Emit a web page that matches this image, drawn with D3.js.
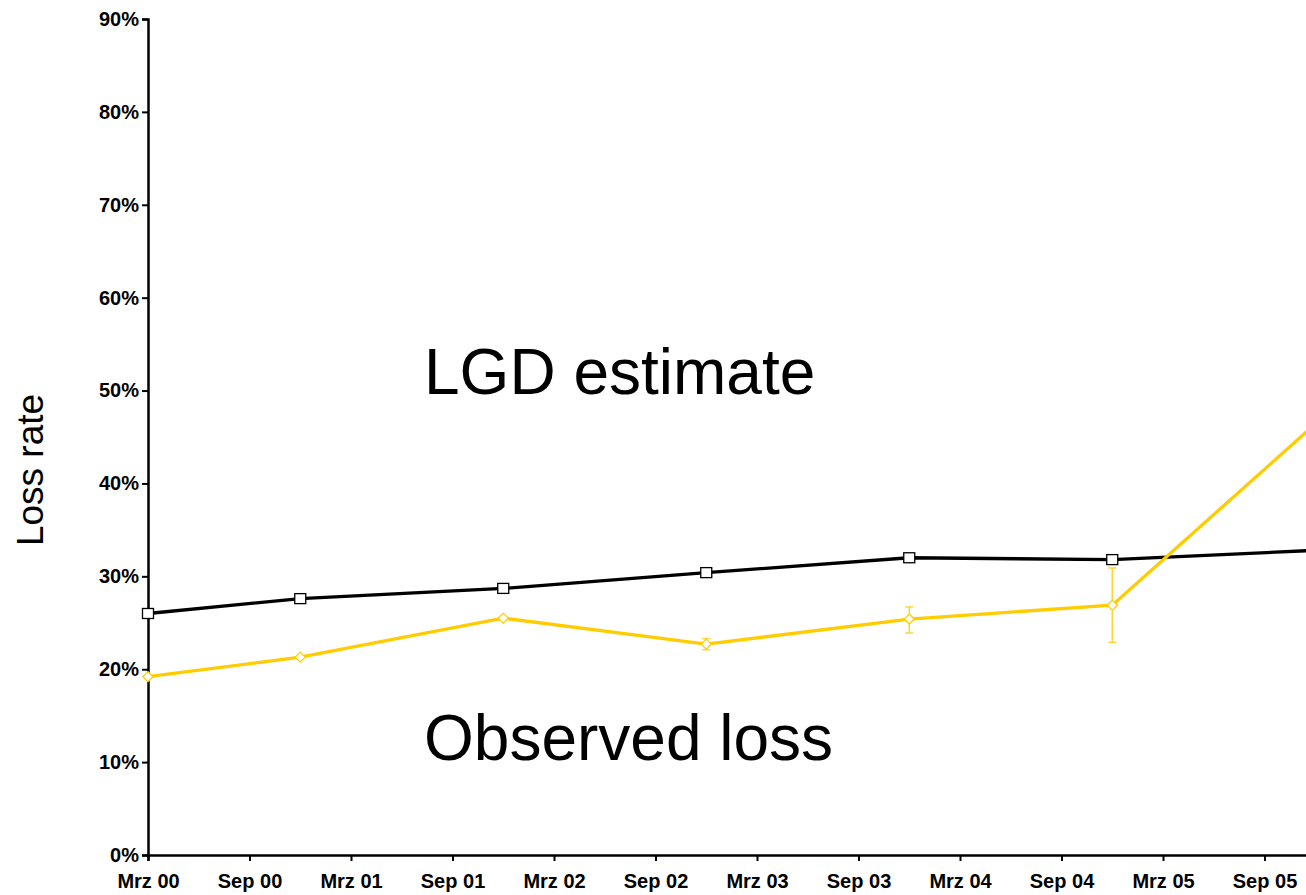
<!DOCTYPE html>
<html><head><meta charset="utf-8">
<script src="https://cdn.jsdelivr.net/npm/d3@7"></script>
<style>body{margin:0;background:#fff}svg{display:block}</style>
</head><body>
<svg id="c" width="1306" height="895"></svg>
<script>
// Month index counted from Jan 2000 (0 = Jan 00)
const tickMonths = [2, 8, 14, 20, 26, 32, 38, 44, 50, 56, 62, 68];
const tickLabels = ["Mrz 00","Sep 00","Mrz 01","Sep 01","Mrz 02","Sep 02","Mrz 03","Sep 03","Mrz 04","Sep 04","Mrz 05","Sep 05"];
const yTicks = [0, 0.1, 0.2, 0.3, 0.4, 0.5, 0.6, 0.7, 0.8, 0.9];
const pointMonths = [2, 11, 23, 35, 47, 59, 71];
const lgdEstimate = [0.260, 0.276, 0.287, 0.304, 0.320, 0.318, 0.328];
const observedLoss = [0.192, 0.213, 0.255, 0.227, 0.254, 0.269, 0.464];
const errLow = [null, null, null, 0.221, 0.239, 0.229, null];
const errHigh = [null, null, null, 0.233, 0.267, 0.309, null];

const svg = d3.select("#c");
const x = d3.scaleLinear().domain([2, 74]).range([148, 1366]);
const y = d3.scaleLinear().domain([0, 0.9]).range([855, 19]);
const font = "Liberation Sans, Arial, sans-serif";

// Y axis
const yAxis = d3.axisLeft(y).tickValues(yTicks).tickFormat(d3.format(".0%")).tickSizeOuter(0).tickSize(6).tickPadding(3);
const gy = svg.append("g").attr("transform", "translate(148,0)").call(yAxis);
gy.select(".domain").attr("stroke", "#000").attr("stroke-width", 2.5);
gy.selectAll(".tick line").attr("stroke", "#000").attr("stroke-width", 2);
gy.selectAll(".tick text").attr("font-family", font).attr("font-weight", "bold").attr("font-size", 20).attr("fill", "#000");

// X axis
const xAxis = d3.axisBottom(x).tickValues(tickMonths).tickFormat((d, i) => tickLabels[i]).tickSizeOuter(0).tickSize(6).tickPadding(13);
const gx = svg.append("g").attr("transform", "translate(0,855)").call(xAxis);
gx.select(".domain").attr("stroke", "#000").attr("stroke-width", 2.5);
gx.selectAll(".tick line").attr("stroke", "#000").attr("stroke-width", 2);
gx.selectAll(".tick text").attr("font-family", font).attr("font-weight", "bold").attr("font-size", 20).attr("fill", "#000");

// Lines
const lgdData = pointMonths.map((m, i) => ({m, v: lgdEstimate[i]}));
const obsData = pointMonths.map((m, i) => ({m, v: observedLoss[i], lo: errLow[i], hi: errHigh[i]}));
const line = d3.line().x(d => x(d.m)).y(d => y(d.v));

svg.append("path").datum(lgdData).attr("d", line).attr("fill", "none").attr("stroke", "#000").attr("stroke-width", 3.3);
svg.append("path").datum(obsData).attr("d", line).attr("fill", "none").attr("stroke", "#FFCC00").attr("stroke-width", 3.3);

// Error bars
const eb = svg.append("g").attr("stroke", "#FFD633").attr("stroke-width", 1.5);
obsData.filter(d => d.lo != null).forEach(d => {
  const cx = x(d.m);
  eb.append("line").attr("x1", cx).attr("x2", cx).attr("y1", y(d.lo)).attr("y2", y(d.hi));
  eb.append("line").attr("x1", cx - 4).attr("x2", cx + 4).attr("y1", y(d.lo)).attr("y2", y(d.lo));
  eb.append("line").attr("x1", cx - 4).attr("x2", cx + 4).attr("y1", y(d.hi)).attr("y2", y(d.hi));
});

// Markers
svg.append("g").selectAll("rect").data(lgdData).join("rect")
  .attr("x", d => x(d.m) - 5.5).attr("y", d => y(d.v) - 5)
  .attr("width", 11).attr("height", 10)
  .attr("fill", "#fff").attr("stroke", "#000").attr("stroke-width", 1.3);
svg.append("g").selectAll("path").data(obsData).join("path")
  .attr("transform", d => `translate(${x(d.m)},${y(d.v)})`)
  .attr("d", "M0,-5L5,0L0,5L-5,0Z")
  .attr("fill", "#fff").attr("stroke", "#FFCC00").attr("stroke-width", 1.3);

// Annotations
svg.append("text").attr("x", 424).attr("y", 394).attr("font-family", font).attr("font-size", 64).attr("fill", "#000").text("LGD estimate");
svg.append("text").attr("x", 424).attr("y", 760).attr("font-family", font).attr("font-size", 64).attr("fill", "#000").text("Observed loss");
svg.append("text").attr("transform", "translate(43,470) rotate(-90)").attr("text-anchor", "middle").attr("font-family", font).attr("font-size", 37).attr("fill", "#000").text("Loss rate");
</script>
</body></html>
